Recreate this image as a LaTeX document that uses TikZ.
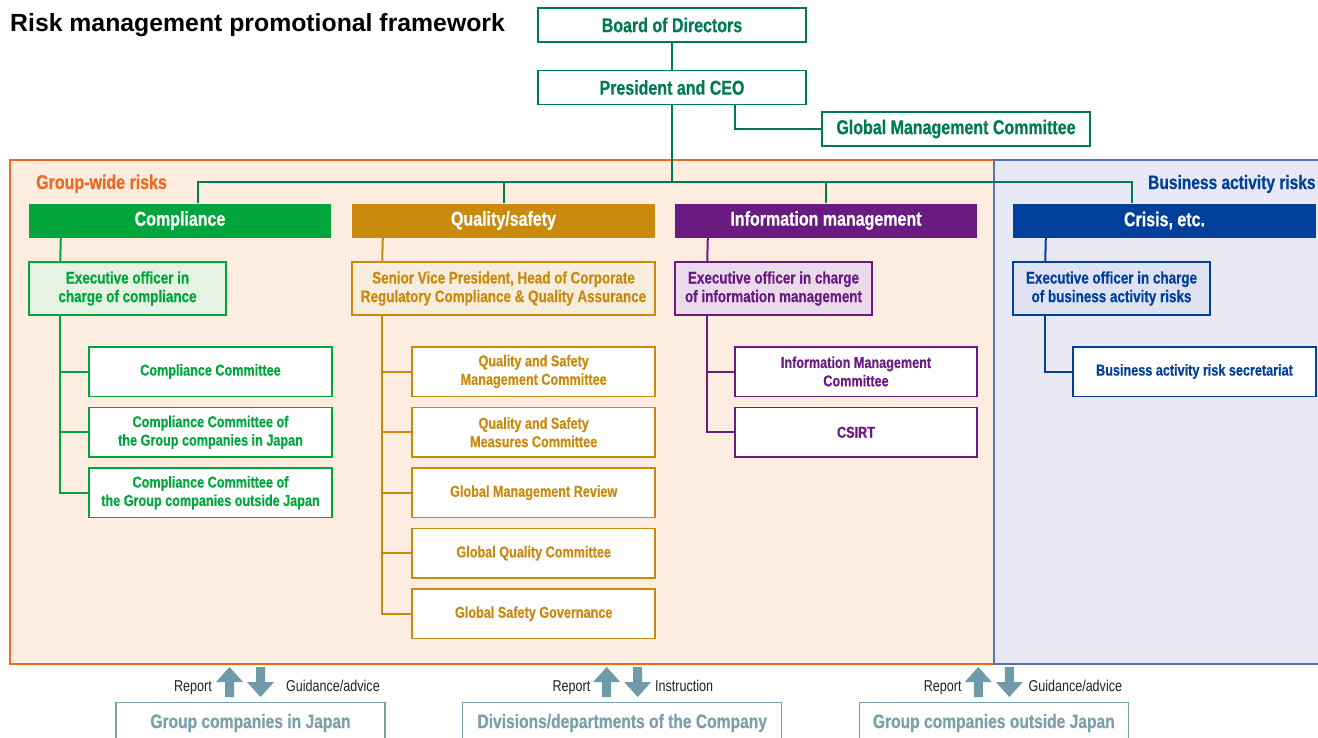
\documentclass[tikz,border=0pt]{standalone}
\usepackage{fontspec}
\setmainfont{Liberation Sans}[FakeStretch=0.8, BoldFeatures={FakeBold=0.5}]
\newfontfamily\titlefont{Liberation Sans}
\definecolor{topgreen}{HTML}{007A55}
\definecolor{compgreen}{HTML}{00A63C}
\definecolor{gold}{HTML}{C98A0E}
\definecolor{purp}{HTML}{6A1B82}
\definecolor{dblue}{HTML}{00409A}
\definecolor{orng}{HTML}{EB6A1F}
\definecolor{peach}{HTML}{FDEDE1}
\definecolor{lav}{HTML}{E8E9F5}
\definecolor{lavborder}{HTML}{5673B3}
\definecolor{steel}{HTML}{7AA0AC}
\definecolor{arrowc}{HTML}{6F9BA8}
\definecolor{lgreen}{HTML}{E6F3E4}
\definecolor{lgold}{HTML}{F7EDDC}
\definecolor{lpurp}{HTML}{EADAEA}
\definecolor{lblue}{HTML}{DEE2F1}
\definecolor{lbltext}{HTML}{222222}
\begin{document}
\begin{tikzpicture}[x=1pt,y=-1pt,
  box/.style={draw, line width=1.5pt, fill=white, inner sep=0pt, align=center},
  topbox/.style={box, draw=topgreen, text=topgreen, minimum width=268pt, minimum height=34pt, font=\fontsize{20}{22}\selectfont\bfseries},
  head/.style={inner sep=0pt, minimum height=34pt, text=white, font=\fontsize{20}{22}\selectfont\bfseries},
  execbox/.style={box, minimum width=197pt, minimum height=53pt, font=\fontsize{16.8}{18.6}\selectfont\bfseries},
  subbox/.style={box, minimum height=49.5pt, font=\fontsize{15.8}{18.4}\selectfont\bfseries},
  compsub/.style={subbox, draw=compgreen, text=compgreen, minimum width=243pt},
  goldsub/.style={subbox, draw=gold, text=gold, minimum width=243pt},
  purpsub/.style={subbox, draw=purp, text=purp, minimum width=242pt},
  bluesub/.style={subbox, draw=dblue, text=dblue, minimum width=243pt},
  conn/.style={line width=2pt},
  region/.style={inner sep=0pt, anchor=base west, font=\fontsize{20}{22}\selectfont\bfseries},
  lbl/.style={inner sep=0pt, text=lbltext, font=\fontsize{15.7}{18}\selectfont},
  botbox/.style={box, draw=steel, text=steel, minimum height=41pt, font=\fontsize{19.5}{22}\selectfont\bfseries},
  uparr/.pic={\fill[arrowc] (-4.5,15) -- (-4.5,0) -- (-13.5,0) -- (0,-15) -- (13.5,0) -- (4.5,0) -- (4.5,15) -- cycle;},
  dnarr/.pic={\fill[arrowc] (-4.5,-15) -- (-4.5,0) -- (-13.5,0) -- (0,15) -- (13.5,0) -- (4.5,0) -- (4.5,-15) -- cycle;}
]
\useasboundingbox (0,0) rectangle (1318,737);
\clip (0,0) rectangle (1318,737);
\fill[white] (0,0) rectangle (1318,737);

% regions
\fill[peach] (10,160) rectangle (994,664);
\draw[orng, line width=1.2pt] (10,160) rectangle (994,664);
\fill[lav] (994,160) rectangle (1330,664);
\draw[lavborder, line width=1.2pt] (1330,160) -- (994,160) -- (994,664) -- (1330,664);

% title and region labels
\node[inner sep=0pt, anchor=base west, font=\titlefont\fontsize{24.8}{28}\selectfont\bfseries] (title) at (10,31) {Risk management promotional framework};
\node[region, text=orng] (gwr) at (36,189) {Group-wide risks};
\node[region, text=dblue, font=\fontsize{19.4}{22}\selectfont\bfseries] (bar) at (1148,189) {Business activity risks};

% top
\node[topbox] (board) at (672,25) {Board of Directors};
\node[topbox] (ceo) at (672,87.5) {President and CEO};
\node[topbox] (gmc) at (956,129) {Global Management Committee};
\draw[conn, topgreen] (board.south) -- (ceo.north);
\draw[conn, topgreen] ([xshift=63pt]ceo.south) |- (gmc.west);

% headers
\node[head, fill=compgreen, minimum width=302pt] (hc) at (180,220.5) {Compliance};
\node[head, fill=gold, minimum width=303pt] (hq) at (503.5,220.5) {Quality/safety};
\node[head, fill=purp, minimum width=302pt] (hi) at (826,220.5) {Information management};
\node[head, fill=dblue, minimum width=303pt] (hx) at (1164.5,220.5) {Crisis, etc.};

\coordinate (bus) at (672,181.5);
\draw[conn, topgreen] (ceo.south) -- (bus);
\draw[conn, topgreen] ([xshift=18pt]hc.north) |- (bus) -| ([xshift=-32.5pt]hx.north);
\draw[conn, topgreen] (hq.north) -- (hq.north |- bus);
\draw[conn, topgreen] (hi.north) -- (hi.north |- bus);

% executive boxes
\node[execbox, draw=compgreen, fill=lgreen, text=compgreen] (ec) at (127.5,288.5) {Executive officer in\\charge of compliance};
\node[execbox, draw=gold, fill=lgold, text=gold, minimum width=303pt] (eq) at (503.5,288.5) {Senior Vice President, Head of Corporate\\Regulatory Compliance \& Quality Assurance};
\node[execbox, draw=purp, fill=lpurp, text=purp] (ei) at (773.5,288.5) {Executive officer in charge\\of information management};
\node[execbox, draw=dblue, fill=lblue, text=dblue] (ex) at (1111.5,288.5) {Executive officer in charge\\of business activity risks};

\draw[conn, compgreen] ([xshift=32pt]hc.south west) -- ([xshift=32pt]ec.north west);
\draw[conn, gold] ([xshift=31pt]hq.south west) -- ([xshift=31pt]eq.north west);
\draw[conn, purp] ([xshift=33pt]hi.south west) -- ([xshift=33pt]ei.north west);
\draw[conn, dblue] ([xshift=33pt]hx.south west) -- ([xshift=33pt]ex.north west);

% compliance subs
\node[compsub] (c1) at (210.5,371.5) {Compliance Committee};
\node[compsub] (c2) at (210.5,432.3) {Compliance Committee of\\the Group companies in Japan};
\node[compsub] (c3) at (210.5,492.7) {Compliance Committee of\\the Group companies outside Japan};
\foreach \n in {c1,c2,c3}
  \draw[conn, compgreen] ([xshift=32pt]ec.south west) |- (\n.west);

% quality subs
\node[goldsub] (q1) at (533.7,371.5) {Quality and Safety\\Management Committee};
\node[goldsub] (q2) at (533.7,432.3) {Quality and Safety\\Measures Committee};
\node[goldsub] (q3) at (533.7,492.7) {Global Management Review};
\node[goldsub] (q4) at (533.7,553.3) {Global Quality Committee};
\node[goldsub] (q5) at (533.7,613.7) {Global Safety Governance};
\foreach \n in {q1,q2,q3,q4,q5}
  \draw[conn, gold] ([xshift=31pt]eq.south west) |- (\n.west);

% information subs
\node[purpsub] (i1) at (856,371.5) {Information Management\\Committee};
\node[purpsub] (i2) at (856,432.3) {CSIRT};
\foreach \n in {i1,i2}
  \draw[conn, purp] ([xshift=33pt]ei.south west) |- (\n.west);

% business sub
\node[bluesub] (x1) at (1194.5,371.5) {Business activity risk secretariat};
\draw[conn, dblue] ([xshift=33pt]ex.south west) |- (x1.west);

% bottom
\node[lbl, anchor=base east] (r1) at (212,691) {Report};
\pic at (229.5,682) {uparr};
\pic at (260.5,682) {dnarr};
\node[lbl, anchor=base west] (g1) at (286,691) {Guidance/advice};
\node[botbox, minimum width=269pt] (bj) at (250.5,723) {Group companies in Japan};

\node[lbl, anchor=base east] (r2) at (590.5,691) {Report};
\pic at (606.7,682) {uparr};
\pic at (637.7,682) {dnarr};
\node[lbl, anchor=base west] (g2) at (655,691) {Instruction};
\node[botbox, minimum width=319pt] (bd) at (622.2,723) {Divisions/departments of the Company};

\node[lbl, anchor=base east] (r3) at (961.7,691) {Report};
\pic at (978.3,682) {uparr};
\pic at (1009.3,682) {dnarr};
\node[lbl, anchor=base west] (g3) at (1028.3,691) {Guidance/advice};
\node[botbox, minimum width=269pt] (bo) at (993.8,723) {Group companies outside Japan};
\end{tikzpicture}
\end{document}
